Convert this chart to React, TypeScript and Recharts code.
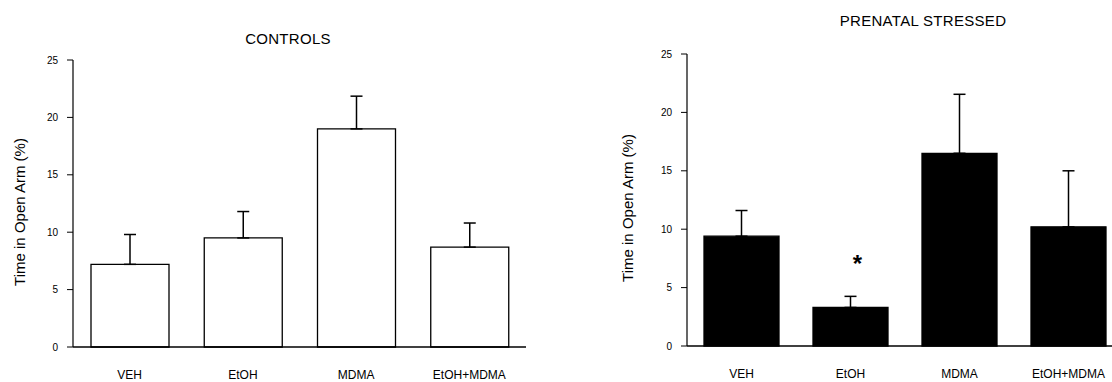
import { BarChart, Bar, XAxis, YAxis, ErrorBar, ReferenceDot } from 'recharts';

// Time spent in the open arms, mean ± SEM per treatment group
const groups = ['VEH', 'EtOH', 'MDMA', 'EtOH+MDMA'];
const controlMeans = [7.2, 9.5, 19.0, 8.7];
const controlSem = [2.6, 2.3, 2.85, 2.1];
const stressedMeans = [9.4, 3.3, 16.5, 10.2];
const stressedSem = [2.2, 0.95, 5.05, 4.8];
const stressedSignificant = ['EtOH'];
const yTicks = [0, 5, 10, 15, 20, 25];
const yLabel = 'Time in Open Arm (%)';

const FONT = '"Liberation Sans", Arial, Helvetica, sans-serif';
const INK = '#000';

// only the upper whisker is drawn above each bar
const toRows = (means: number[], sem: number[]) =>
  groups.map((group, i) => ({ group, mean: means[i], err: [0, sem[i]] }));

const controlRows = toRows(controlMeans, controlSem);
const stressedRows = toRows(stressedMeans, stressedSem);

const GroupTick = ({ x, y, payload }: any) => (
  <text x={x} y={y + 32} textAnchor="middle" fontSize={12} fill={INK} fontFamily={FONT}>
    {payload.value}
  </text>
);

const makeAxisTitle = (titleX: number, titleY: number) => (props: any) => (
  <text
    x={titleX}
    y={titleY}
    transform={`rotate(-90, ${titleX}, ${titleY})`}
    textAnchor="middle"
    fontSize={15}
    fill={INK}
    fontFamily={FONT}
  >
    {props.value ?? yLabel}
  </text>
);

interface PanelProps {
  title: string;
  rows: typeof controlRows;
  fill: string;
  left: number;
  width: number;
  yAxisWidth: number;
  top: number;
  xAxisHeight: number;
  right: number;
  barSize: number;
  titleX: number;
  titleY: number;
  axisTitleX: number;
  axisTitleY: number;
  significant?: string[];
}

function Panel({
  title,
  rows,
  fill,
  left,
  width,
  yAxisWidth,
  top,
  xAxisHeight,
  right,
  barSize,
  titleX,
  titleY,
  axisTitleX,
  axisTitleY,
  significant = [],
}: PanelProps) {
  return (
    <div style={{ position: 'absolute', left, top: 0, width, height: 382 }}>
      <div
        style={{
          position: 'absolute',
          left: titleX - 150,
          top: titleY - 10,
          width: 300,
          textAlign: 'center',
          fontSize: 15,
          lineHeight: '20px',
          letterSpacing: 0.3,
          color: INK,
          fontFamily: FONT,
        }}
      >
        {title}
      </div>
      <BarChart
        width={width}
        height={382}
        data={rows}
        margin={{ top, right, bottom: 0, left: 0 }}
        style={{ position: 'absolute', left: 0, top: 0 }}
      >
        <XAxis
          dataKey="group"
          height={xAxisHeight}
          axisLine={{ stroke: INK, strokeWidth: 1.5 }}
          tickLine={false}
          tickSize={0}
          tickMargin={0}
          tick={<GroupTick />}
          interval={0}
        />
        <YAxis
          type="number"
          domain={[0, 25]}
          ticks={yTicks}
          width={yAxisWidth}
          axisLine={{ stroke: INK, strokeWidth: 1.2 }}
          tickLine={{ stroke: INK, strokeWidth: 1 }}
          tickSize={6}
          tickMargin={9}
          tick={{ fontSize: 10, fill: INK, fontFamily: FONT }}
          label={{ value: yLabel, content: makeAxisTitle(axisTitleX, axisTitleY) }}
        />
        <Bar
          dataKey="mean"
          fill={fill}
          stroke={INK}
          strokeWidth={1.3}
          barSize={barSize}
          isAnimationActive={false}
        >
          <ErrorBar dataKey="err" width={6} stroke={INK} strokeWidth={1.5} direction="y" />
        </Bar>
        {significant.map((g) => (
          <ReferenceDot
            key={g}
            x={g}
            y={7.5}
            r={0}
            shape={(p: any) => (
              <text
                x={p.cx + 7}
                y={p.cy + 14}
                textAnchor="middle"
                fontSize={24}
                fontWeight="bold"
                fill={INK}
                fontFamily={FONT}
              >
                *
              </text>
            )}
          />
        ))}
      </BarChart>
    </div>
  );
}

export default function App() {
  return (
    <div
      style={{
        position: 'absolute',
        left: 0,
        top: 0,
        width: 1112,
        height: 382,
        overflow: 'hidden',
        background: '#fff',
      }}
    >
      <Panel
        title="CONTROLS"
        rows={controlRows}
        fill="#fff"
        left={0}
        width={556}
        yAxisWidth={73}
        top={60}
        xAxisHeight={35}
        right={30}
        barSize={78}
        titleX={288}
        titleY={39}
        axisTitleX={25}
        axisTitleY={212}
      />
      <Panel
        title="PRENATAL STRESSED"
        rows={stressedRows}
        fill={INK}
        left={556}
        width={570}
        yAxisWidth={131}
        top={54}
        xAxisHeight={36}
        right={3}
        barSize={75}
        titleX={367}
        titleY={21}
        axisTitleX={77}
        axisTitleY={208}
        significant={stressedSignificant}
      />
    </div>
  );
}
